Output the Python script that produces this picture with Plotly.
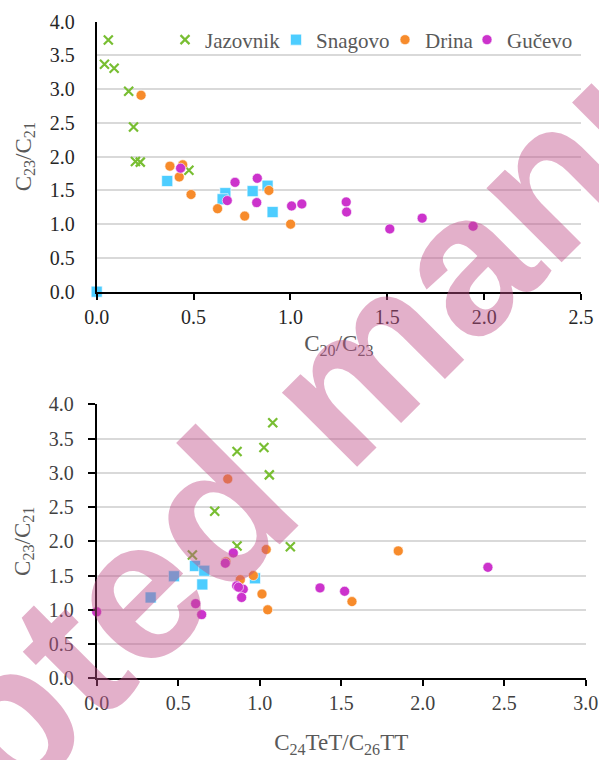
import plotly.graph_objects as go

# ---------------- data ----------------
series_names = ["Jazovnik", "Snagovo", "Drina", "Gučevo"]

# Jazovnik
jaz_c20_c23 = [0.06, 0.04, 0.09, 0.165, 0.19, 0.20, 0.225, 0.476]
jaz_tet_tt = [1.08, 1.026, 0.861, 1.059, 0.724, 0.861, 1.188, 0.587]
jaz_c23_c21 = [3.73, 3.37, 3.31, 2.97, 2.44, 1.93, 1.92, 1.80]

# Snagovo
sna_c20_c23 = [0.364, 0.664, 0.650, 0.805, 0.882, 0.908, 0.0]
sna_tet_tt = [0.603, 0.971, 0.648, 0.474, 0.660, 0.331, None]
sna_c23_c21 = [1.64, 1.46, 1.37, 1.49, 1.57, 1.18, 0.0]

# Drina
dri_c20_c23 = [0.229, 0.444, 0.378, 0.426, 0.487, 0.889, 0.624, 1.001, 0.764]
dri_tet_tt = [0.804, 1.04, 1.85, 0.793, 0.881, 0.961, 1.014, 1.049, 1.566]
dri_c23_c21 = [2.91, 1.88, 1.86, 1.70, 1.44, 1.50, 1.23, 1.00, 1.12]

# Gučevo
guc_c20_c23 = [0.433, 0.714, 0.829, 0.674, 0.826, 1.006, 1.059, 1.288, 1.290, 1.513, 1.680, 1.943]
guc_tet_tt = [0.838, 2.40, 0.789, 0.859, 1.37, 1.521, 0.899, 0.87, 0.889, 0.644, 0.607, 0.0]
guc_c23_c21 = [1.83, 1.62, 1.68, 1.35, 1.32, 1.27, 1.30, 1.33, 1.18, 0.93, 1.09, 0.97]

top_x_ticks = [0.0, 0.5, 1.0, 1.5, 2.0, 2.5]
bot_x_ticks = [0.0, 0.5, 1.0, 1.5, 2.0, 2.5, 3.0]
y_ticks = [0.0, 0.5, 1.0, 1.5, 2.0, 2.5, 3.0, 3.5, 4.0]

# ---------------- styles ----------------
GREEN = "#78BE32"
BLUE = "#4DCDFF"
ORANGE = "#F78B2B"
MAGENTA = "#CC33CC"
SERIF = "Liberation Serif"

styles = [
    dict(symbol="x-thin", size=9, color=GREEN, line=dict(color=GREEN, width=2.2)),
    dict(symbol="square", size=11, color=BLUE, line=dict(color="white", width=0.6)),
    dict(symbol="circle", size=10, color=ORANGE, line=dict(color="white", width=0.6)),
    dict(symbol="circle", size=10, color=MAGENTA, line=dict(color="white", width=0.6)),
]
legend_widths = [66, 64, 37, 68]

top_x = [jaz_c20_c23, sna_c20_c23, dri_c20_c23, guc_c20_c23]
bot_x = [jaz_tet_tt, sna_tet_tt, dri_tet_tt, guc_tet_tt]
ys = [jaz_c23_c21, sna_c23_c21, dri_c23_c21, guc_c23_c21]

fig = go.Figure()
for name, st, xt, xb, y, lw in zip(series_names, styles, top_x, bot_x, ys, legend_widths):
    fig.add_trace(go.Scatter(x=xt, y=y, mode="markers", name=name, marker=st,
                             xaxis="x", yaxis="y", cliponaxis=False,
                             legendgroup=name, showlegend=True, legendwidth=lw))
    fig.add_trace(go.Scatter(x=xb, y=y, mode="markers", name=name, marker=st,
                             xaxis="x2", yaxis="y2", cliponaxis=False,
                             legendgroup=name, showlegend=False))

W, H = 599, 760
def px_x(p):
    return p / W
def px_y(p):
    return 1 - p / H

def tfont(color, size=20):
    return dict(family=SERIF, color=color, size=size)

common_x = dict(showgrid=False, zeroline=False, showline=True, linecolor="black",
                linewidth=2, ticks="outside", ticklen=6, tickwidth=2, tickcolor="black",
                tickformat=".1f", ticklabelstandoff=0, automargin=False)
common_y = dict(showgrid=True, gridcolor="#d9d9d9", gridwidth=1.5, zeroline=False,
                showline=True, linecolor="black", linewidth=2, tickformat=".1f",
                automargin=False)

fig.update_layout(
    width=W, height=H,
    margin=dict(l=0, r=0, t=0, b=0, autoexpand=False),
    paper_bgcolor="white", plot_bgcolor="white",
    font=dict(family=SERIF, size=20, color="#595959"),
    showlegend=True,
    legend=dict(orientation="h", x=px_x(165), y=px_y(40), xanchor="left", yanchor="middle",
                font=tfont("#595959", 21), bgcolor="rgba(0,0,0,0)", itemwidth=30,
                tracegroupgap=0, borderwidth=0),
    xaxis=dict(domain=[px_x(96.7), px_x(581)], range=[0, 2.5], tickvals=top_x_ticks,
               anchor="y", tickfont=tfont("#262626"),
               title=dict(text="C<sub>20</sub>/C<sub>23</sub>", standoff=8,
                          font=tfont("#595959", 23)),
               **common_x),
    yaxis=dict(domain=[px_y(291.7), px_y(21.7)], range=[0, 4], tickvals=y_ticks,
               anchor="x", ticks="", ticklabelstandoff=16, tickfont=tfont("#262626"),
               title=dict(text="C<sub>23</sub>/C<sub>21</sub>", standoff=12,
                          font=tfont("#595959", 23)),
               **common_y),
    xaxis2=dict(domain=[px_x(96.7), px_x(585.7)], range=[0, 3], tickvals=bot_x_ticks,
                anchor="y2", tickfont=tfont("#404040"),
                title=dict(text="C<sub>24</sub>TeT/C<sub>26</sub>TT", standoff=21,
                           font=tfont("#595959", 23)),
                **common_x),
    yaxis2=dict(domain=[px_y(678.3), px_y(404.3)], range=[0, 4], tickvals=y_ticks,
                anchor="x2", ticks="outside", ticklen=7, tickwidth=2, tickcolor="black",
                ticklabelstandoff=10, tickfont=tfont("#404040"),
                title=dict(text="C<sub>23</sub>/C<sub>21</sub>", standoff=12,
                           font=tfont("#595959", 23)),
                **common_y),
)

# watermark overlay
fig.add_annotation(text="Accepted manuscript", xref="paper", yref="paper",
                   x=px_x(341), y=px_y(384), xanchor="center", yanchor="middle",
                   showarrow=False, textangle=-45,
                   font=dict(family="Liberation Sans", size=200,
                             color="rgba(192,80,138,0.45)", weight="bold"))

fig.write_html("out.html", config={"displayModeBar": False},
               post_script="document.body.style.margin='0';document.body.style.overflow='hidden';")
